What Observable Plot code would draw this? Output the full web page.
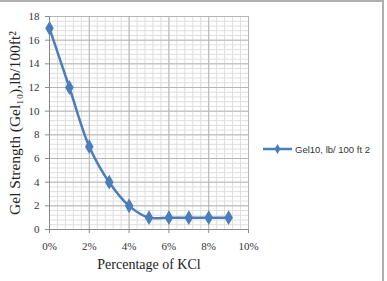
<!DOCTYPE html>
<html>
<head>
<meta charset="utf-8">
<script src="https://cdn.jsdelivr.net/npm/d3@7"></script>
<script src="https://cdn.jsdelivr.net/npm/@observablehq/plot@0.6"></script>
<style>
  html, body { margin: 0; padding: 0; background: #fff; }
  #wrap { position: relative; width: 387px; height: 281px; overflow: hidden; }
  #frame { position: absolute; left: -2px; top: 0px; width: 386px; height: 290px; border: 2px solid #b0b0b0; box-sizing: border-box; pointer-events: none; }
  #legend { position: absolute; left: 263px; top: 143px; font-family: "Liberation Sans", Arial, sans-serif; font-size: 9.5px; color: #333; display: flex; align-items: center; white-space: nowrap; }
  #legend svg { margin-right: 2px; }
</style>
</head>
<body>
<div id="wrap">
  <div id="chart"></div>
  <div id="legend"></div>
  <div id="frame"></div>
</div>
<script>
const seriesName = "Gel10, lb/ 100 ft 2";
const kclPercent = [0, 1, 2, 3, 4, 5, 6, 7, 8, 9];
const gelStrength = [17, 12, 7, 4, 2, 1, 1, 1, 1, 1];
const xTicks = [0, 2, 4, 6, 8, 10];
const yTicks = [0, 2, 4, 6, 8, 10, 12, 14, 16, 18];
const xMinor = d3.range(0, 10.001, 0.4);
const yMinor = d3.range(0, 18.001, 0.4);

const data = kclPercent.map((x, i) => ({x, y: gelStrength[i]}));
const blue = "#4a7ebb";

const plot = Plot.plot({
  width: 387,
  height: 281,
  marginLeft: 49,
  marginRight: 139,
  marginTop: 16,
  marginBottom: 52,
  x: {domain: [0, 10]},
  y: {domain: [0, 18]},
  style: {fontFamily: "'Liberation Serif', 'DejaVu Serif', serif", fontSize: "11px", color: "#333", background: "#fff"},
  marks: [
    Plot.ruleX(xMinor, {stroke: "#dedede", strokeWidth: 1}),
    Plot.ruleY(yMinor, {stroke: "#dedede", strokeWidth: 1}),
    Plot.ruleX(xTicks, {stroke: "#b5b5b5", strokeWidth: 1}),
    Plot.ruleY(yTicks, {stroke: "#b5b5b5", strokeWidth: 1}),
    Plot.ruleX([0], {stroke: "#8a8a8a"}),
    Plot.ruleY([0], {stroke: "#8a8a8a"}),
    Plot.axisX({ticks: xTicks, tickFormat: d => d + "%", tickSize: 4, tickPadding: 9, stroke: "#8a8a8a", label: null}),
    Plot.axisY({ticks: yTicks, tickSize: 4, tickPadding: 6, stroke: "#8a8a8a", label: null}),
    Plot.line(data, {x: "x", y: "y", curve: "catmull-rom", stroke: blue, strokeWidth: 2.5}),
    Plot.dot(data, {x: "x", y: "y", symbol: "diamond", r: 3.6, fill: blue, stroke: blue}),
    Plot.text(["Percentage of KCl"], {frameAnchor: "bottom", dy: 39, fontSize: 14, fill: "#222"}),
    Plot.text(["Gel Strength (Gel\u2081\u2080),lb/100ft\u00b2"], {frameAnchor: "left", textAnchor: "middle", dx: -34, rotate: -90, fontSize: 15.5, fill: "#222"})
  ]
});
document.getElementById("chart").appendChild(plot);

// legend
const leg = document.getElementById("legend");
const ns = "http://www.w3.org/2000/svg";
const s = document.createElementNS(ns, "svg");
s.setAttribute("width", 30); s.setAttribute("height", 12);
s.innerHTML = `<line x1="0" y1="6" x2="29" y2="6" stroke="${blue}" stroke-width="2.5"/>` +
  `<path transform="translate(14.5,6)" d="${d3.symbol(d3.symbolDiamond, 30)()}" fill="${blue}"/>`;
leg.appendChild(s);
const t = document.createElement("span");
t.textContent = seriesName;
leg.appendChild(t);
</script>
</body>
</html>
